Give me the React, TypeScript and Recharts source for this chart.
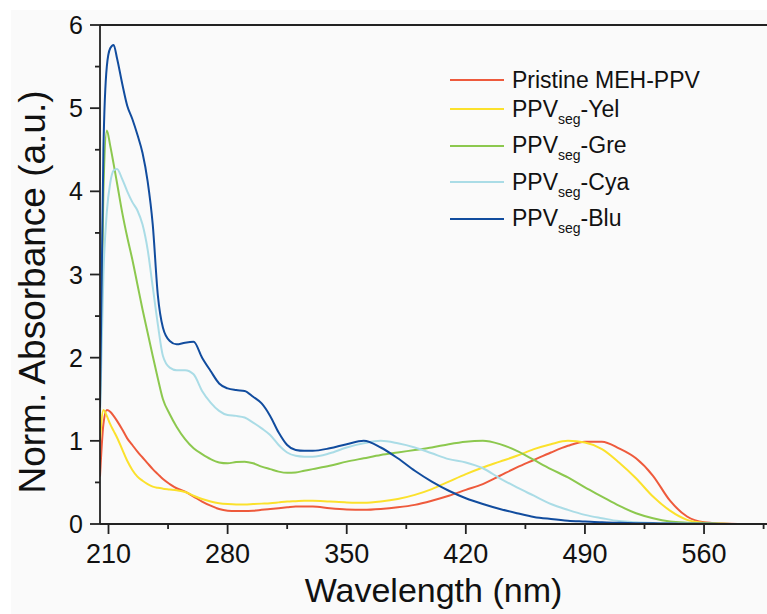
import { LineChart, Line, XAxis, YAxis, Legend, ReferenceLine } from 'recharts';

const wavelengths = [
  205, 207, 209, 211, 213, 215, 218, 221, 224, 227, 230, 233, 236, 239, 242, 246, 250, 255, 260, 265,
  270, 275, 280, 285, 290, 295, 300, 305, 310, 315, 320, 325, 330, 340, 350, 360, 370, 380, 390, 400,
  410, 420, 430, 440, 450, 460, 470, 480, 490, 500, 510, 520, 530, 540, 550, 560, 570, 580, 597,
];

const pristine = [
  0.57, 1.2, 1.37, 1.35, 1.3, 1.24, 1.14, 1.03, 0.95, 0.87, 0.8, 0.73, 0.66, 0.6, 0.54, 0.48, 0.43, 0.39, 0.33, 0.27,
  0.22, 0.18, 0.16, 0.155, 0.155, 0.16, 0.17, 0.18, 0.19, 0.2, 0.21, 0.21, 0.21, 0.19, 0.175, 0.17, 0.18, 0.2, 0.23, 0.28,
  0.34, 0.41, 0.48, 0.58, 0.68, 0.77, 0.86, 0.94, 0.99, 0.99, 0.91, 0.79, 0.58, 0.28, 0.09, 0.02, 0.005, 0, 0,
];

const yel = [
  1.0, 1.37, 1.3, 1.2, 1.12, 1.04, 0.9, 0.76, 0.65, 0.57, 0.52, 0.48, 0.45, 0.435, 0.425, 0.415, 0.405, 0.385, 0.34, 0.3,
  0.27, 0.25, 0.24, 0.235, 0.235, 0.24, 0.245, 0.25, 0.26, 0.27, 0.275, 0.28, 0.28, 0.27, 0.26, 0.255, 0.27, 0.3, 0.35, 0.42,
  0.51, 0.6, 0.68, 0.75, 0.82, 0.9, 0.96, 1.0, 0.98, 0.9, 0.74, 0.55, 0.33, 0.16, 0.05, 0.015, 0.003, 0, 0,
];

const gre = [
  1.5, 4.0, 4.73, 4.55, 4.33, 4.1, 3.75, 3.45, 3.18, 2.88, 2.58, 2.3, 2.02, 1.75, 1.5, 1.32, 1.17, 1.02, 0.91, 0.84,
  0.78, 0.74, 0.73, 0.745, 0.75, 0.73, 0.69, 0.66, 0.63, 0.615, 0.62, 0.64, 0.66, 0.7, 0.75, 0.79, 0.83, 0.86, 0.89, 0.92,
  0.96, 0.99, 1.0, 0.96, 0.88, 0.77, 0.66, 0.56, 0.44, 0.33, 0.22, 0.13, 0.07, 0.03, 0.015, 0.008, 0.003, 0, 0,
];

const cya = [
  1.3, 3.0, 3.75, 4.1, 4.25, 4.27, 4.15, 4.0, 3.87, 3.77, 3.6, 3.3, 2.85, 2.4, 2.02, 1.88, 1.85, 1.85, 1.8, 1.6,
  1.46, 1.36, 1.31, 1.3, 1.28, 1.22, 1.15, 1.07, 0.95, 0.86, 0.82, 0.81, 0.81, 0.85, 0.92, 0.97, 1.0, 0.97, 0.92, 0.85,
  0.78, 0.74, 0.67, 0.55, 0.44, 0.34, 0.24, 0.17, 0.11, 0.07, 0.035, 0.02, 0.012, 0.008, 0.005, 0.003, 0, 0, 0,
];

const blu = [
  1.4, 4.5, 5.5, 5.72, 5.76, 5.6, 5.3, 5.03, 4.87, 4.68, 4.46, 4.12, 3.6, 2.75, 2.36, 2.2, 2.16, 2.18, 2.19, 2.0,
  1.84, 1.69, 1.63, 1.61, 1.6, 1.53, 1.45, 1.3, 1.1, 0.95, 0.89, 0.88, 0.88, 0.91, 0.96, 1.0, 0.92, 0.79, 0.64, 0.51,
  0.4, 0.31, 0.24, 0.18, 0.13, 0.085, 0.06, 0.04, 0.03, 0.02, 0.015, 0.01, 0.008, 0.005, 0.004, 0.003, 0, 0, 0,
];

const xTicks = [210, 245, 280, 315, 350, 385, 420, 455, 490, 525, 560, 595];
const xMajor = [210, 280, 350, 420, 490, 560];
const yTicks = [0, 0.5, 1, 1.5, 2, 2.5, 3, 3.5, 4, 4.5, 5, 5.5, 6];

const series = [
  { key: 'pristine', base: 'Pristine MEH-PPV', sub: '', suffix: '', color: '#EE5A3C' },
  { key: 'yel', base: 'PPV', sub: 'seg', suffix: '-Yel', color: '#FBE12C' },
  { key: 'gre', base: 'PPV', sub: 'seg', suffix: '-Gre', color: '#8CC84E' },
  { key: 'cya', base: 'PPV', sub: 'seg', suffix: '-Cya', color: '#AADCE6' },
  { key: 'blu', base: 'PPV', sub: 'seg', suffix: '-Blu', color: '#114C9E' },
];

const data = wavelengths.map((wl, i) => ({
  wl,
  pristine: pristine[i],
  yel: yel[i],
  gre: gre[i],
  cya: cya[i],
  blu: blu[i],
}));

const AXIS = '#222';
const FONT = '"Liberation Sans", Arial, sans-serif';

function XTick({ x, y, payload }: any) {
  const major = xMajor.includes(payload.value);
  return (
    <g>
      <line x1={x} x2={x} y1={y} y2={y + (major ? 10 : 5)} stroke={AXIS} strokeWidth={1.8} />
      {major && (
        <text x={x} y={y + 39} textAnchor="middle" fontSize={27} fill="#111">
          {payload.value}
        </text>
      )}
    </g>
  );
}

function YTick({ x, y, payload }: any) {
  const major = Number.isInteger(payload.value);
  return (
    <g>
      <line x1={x - (major ? 10 : 5)} x2={x} y1={y} y2={y} stroke={AXIS} strokeWidth={1.8} />
      {major && (
        <text x={x - 17} y={y + 9} textAnchor="end" fontSize={25} fill="#111">
          {payload.value}
        </text>
      )}
    </g>
  );
}

function YLabel() {
  return (
    <text transform="translate(45,292) rotate(-90)" textAnchor="middle" fontSize={37} fill="#111">
      Norm. Absorbance (a.u.)
    </text>
  );
}

function SeriesLegend() {
  // rows with a subscript sit further apart, as in the original
  const centers: number[] = [];
  let c = 0;
  series.forEach((s, i) => {
    if (i > 0) c += series[i - 1].sub ? 36.5 : 29;
    centers.push(c);
  });
  return (
    <div style={{ position: 'relative', width: 260, height: 180, fontFamily: FONT }}>
      {series.map((s, i) => (
        <div
          key={s.key}
          style={{ position: 'absolute', left: 0, top: centers[i], height: 30, display: 'flex', alignItems: 'center' }}
        >
          <svg width={54} height={4} style={{ display: 'block' }}>
            <line x1={0} x2={54} y1={2} y2={2} stroke={s.color} strokeWidth={2} />
          </svg>
          <span style={{ marginLeft: 8, fontSize: 23, lineHeight: 1, color: '#111', whiteSpace: 'nowrap' }}>
            {s.base}
            {s.sub && (
              <span style={{ fontSize: 14, position: 'relative', top: 7 }}>{s.sub}</span>
            )}
            {s.suffix}
          </span>
        </div>
      ))}
    </div>
  );
}

export default function App() {
  return (
    <div style={{ position: 'relative', width: 767, height: 614, background: '#fff', fontFamily: FONT }}>
      <style>{'body{margin:0;overflow:hidden;}'}</style>
      <div style={{ position: 'absolute', left: 11, top: 10, right: 0, bottom: 0, background: '#fafafa' }} />
      <div style={{ position: 'absolute', left: 0, top: 0 }}>
        <LineChart width={767} height={614} data={data} margin={{ top: 25, right: 0, bottom: 0, left: 0 }}>
          <XAxis
            dataKey="wl"
            type="number"
            domain={[205, 597]}
            allowDataOverflow
            ticks={xTicks}
            interval={0}
            tick={<XTick />}
            tickSize={0}
            tickMargin={0}
            tickLine={false}
            axisLine={{ stroke: AXIS, strokeWidth: 1.8 }}
            height={90}
            label={{ value: 'Wavelength (nm)', position: 'insideBottom', offset: 12, fontSize: 34, fill: '#111' }}
          />
          <YAxis
            type="number"
            domain={[0, 6]}
            allowDataOverflow
            ticks={yTicks}
            interval={0}
            tick={<YTick />}
            tickSize={0}
            tickMargin={0}
            tickLine={false}
            axisLine={{ stroke: AXIS, strokeWidth: 1.8 }}
            width={100}
            label={{ content: () => <YLabel /> }}
          />
          <ReferenceLine y={6} stroke={AXIS} strokeWidth={1.8} />
          {series.map((s) => (
            <Line
              key={s.key}
              type="monotone"
              dataKey={s.key}
              name={s.base + s.sub + s.suffix}
              stroke={s.color}
              strokeWidth={2}
              dot={false}
              activeDot={false}
              isAnimationActive={false}
            />
          ))}
          <Legend
            layout="vertical"
            align="center"
            verticalAlign="middle"
            content={() => <SeriesLegend />}
            wrapperStyle={{ position: 'absolute', left: 450, top: 65, width: 260 }}
          />
        </LineChart>
      </div>
    </div>
  );
}
